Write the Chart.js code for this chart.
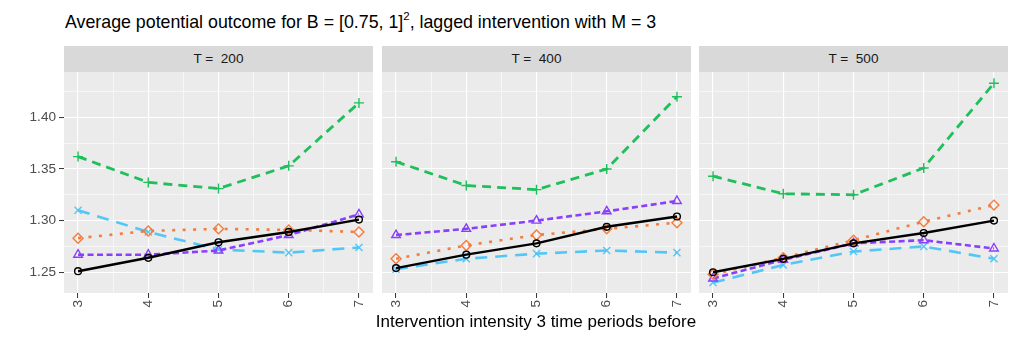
<!DOCTYPE html>
<html>
<head>
<meta charset="utf-8">
<script src="https://cdn.jsdelivr.net/npm/chart.js@4.4.0/dist/chart.umd.min.js"></script>
<style>
body { margin: 0; background: #fff; width: 1017px; height: 339px; overflow: hidden; position: relative; font-family: "Liberation Sans", Arial, sans-serif; }
#titulo { position: absolute; left: 65px; top: 13px; font-size: 17.8px; line-height: 18px; color: #000; white-space: nowrap; }
#titulo sup { font-size: 11.5px; vertical-align: baseline; position: relative; top: -8.5px; }
.faixa { position: absolute; top: 46px; height: 26px; width: 309px; line-height: 26px; background: #d9d9d9; text-align: center; font-size: 13.6px; color: #1a1a1a; white-space: pre; }
canvas { position: absolute; top: 72px; }
#eixo-x { position: absolute; left: 64px; width: 944px; top: 313px; text-align: center; font-size: 17px; line-height: 17px; color: #000; }
</style>
</head>
<body>
<div id="titulo">Average potential outcome for B = [0.75, 1]<sup>2</sup>, lagged intervention with M = 3</div>

<div class="faixa" style="left:64px">T =  200</div>
<div class="faixa" style="left:382px">T =  400</div>
<div class="faixa" style="left:699px">T =  500</div>

<canvas id="grafico-200" width="373" height="267" style="left:0px"></canvas>
<canvas id="grafico-400" width="309" height="267" style="left:382px"></canvas>
<canvas id="grafico-500" width="309" height="267" style="left:699px"></canvas>

<div id="eixo-x">Intervention intensity 3 time periods before</div>

<script>
// Dados
const intensidade = [3, 4, 5, 6, 7];
const ticksX = [3, 4, 5, 6, 7];
const ticksXMenores = [3.5, 4.5, 5.5, 6.5];
const ticksY = [1.25, 1.30, 1.35, 1.40];
const ticksYMenores = [1.275, 1.325, 1.375, 1.425];

// cada lista: [T = 200, T = 400, T = 500]
const preto = [
    [1.251, 1.264, 1.279, 1.289, 1.301],
    [1.254, 1.267, 1.278, 1.294, 1.304],
    [1.250, 1.263, 1.278, 1.288, 1.300]
];
const verde = [
    [1.362, 1.337, 1.331, 1.353, 1.414],
    [1.357, 1.334, 1.330, 1.350, 1.420],
    [1.343, 1.326, 1.325, 1.351, 1.433]
];
const azul = [
    [1.310, 1.289, 1.272, 1.269, 1.274],
    [1.253, 1.263, 1.268, 1.271, 1.269],
    [1.240, 1.257, 1.270, 1.275, 1.263]
];
const laranja = [
    [1.283, 1.290, 1.292, 1.291, 1.289],
    [1.263, 1.276, 1.286, 1.292, 1.298],
    [1.248, 1.264, 1.281, 1.299, 1.315]
];
const roxo = [
    [1.267, 1.267, 1.271, 1.286, 1.306],
    [1.286, 1.292, 1.300, 1.309, 1.319],
    [1.244, 1.262, 1.278, 1.281, 1.273]
];

// Estilos das series
const series = [
    { valores: preto, cor: '#000000', largura: 2.4, traco: [], marcador: 'circle', raio: 3.4 },
    { valores: laranja, cor: '#f47c3c', largura: 2.6, traco: [3, 7.5], marcador: 'rectRot', raio: 5 },
    { valores: roxo, cor: '#8a3ffc', largura: 2.6, traco: [6, 3.5], marcador: 'triangle', raio: 5 },
    { valores: azul, cor: '#54c6f6', largura: 2.6, traco: [12, 8], marcador: 'crossRot', raio: 5 },
    { valores: verde, cor: '#1fbf5c', largura: 2.8, traco: [9, 6], marcador: 'cross', raio: 5 }
];

const perto = (a, b) => Math.abs(a - b) < 1e-6;
const ehMaior = (v, lista) => lista.some(t => perto(t, v));

// Fundo cinza do painel
const fundoPainel = {
    id: 'fundoPainel',
    beforeDraw(chart) {
        const a = chart.chartArea;
        const c = chart.ctx;
        c.save();
        c.fillStyle = '#ebebeb';
        c.fillRect(a.left, a.top, a.right - a.left, a.bottom - a.top);
        c.restore();
    }
};

function semPadding(s) {
    s.paddingLeft = 0;
    s.paddingRight = 0;
    s.paddingTop = 0;
    s.paddingBottom = 0;
}

function gradeEixo(maiores) {
    return {
        color: '#ffffff',
        lineWidth: ctx => (ctx.tick && ehMaior(ctx.tick.value, maiores)) ? 1.1 : 0.55,
        tickColor: ctx => (ctx.tick && ehMaior(ctx.tick.value, maiores)) ? '#333333' : 'rgba(0,0,0,0)',
        tickWidth: 1,
        tickLength: 5,
        drawTicks: true
    };
}

function criarGrafico(id, indice, comEixoY) {
    const ctx = document.getElementById(id).getContext('2d');
    new Chart(ctx, {
        type: 'line',
        data: {
            datasets: series.map(s => ({
                data: intensidade.map((x, i) => ({ x: x, y: s.valores[indice][i] })),
                borderColor: s.cor,
                borderWidth: s.largura,
                borderDash: s.traco,
                borderCapStyle: 'butt',
                pointStyle: s.marcador,
                pointRadius: s.raio,
                pointBorderColor: s.cor,
                pointBackgroundColor: 'rgba(0,0,0,0)',
                pointBorderWidth: 1.4,
                tension: 0,
                fill: false
            }))
        },
        options: {
            responsive: false,
            animation: false,
            devicePixelRatio: 1,
            layout: { padding: 0, autoPadding: false },
            plugins: {
                legend: { display: false },
                tooltip: { enabled: false },
                title: { display: false }
            },
            scales: {
                x: {
                    type: 'linear',
                    min: 2.8,
                    max: 7.2,
                    afterBuildTicks: s => { s.ticks = ticksX.concat(ticksXMenores).sort((a, b) => a - b).map(v => ({ value: v })); },
                    afterFit: s => { s.height = 46; semPadding(s); },
                    border: { display: false },
                    grid: gradeEixo(ticksX),
                    ticks: {
                        autoSkip: false,
                        minRotation: 90,
                        maxRotation: 90,
                        padding: 2,
                        color: '#4d4d4d',
                        font: { family: '"Liberation Sans", Arial, sans-serif', size: 13.6 },
                        callback: v => ehMaior(v, ticksX) ? String(v) : ''
                    }
                },
                y: {
                    type: 'linear',
                    min: 1.2299,
                    max: 1.4439,
                    afterBuildTicks: s => { s.ticks = ticksY.concat(ticksYMenores).sort((a, b) => a - b).map(v => ({ value: v })); },
                    afterFit: s => { s.width = comEixoY ? 64 : 0; semPadding(s); },
                    border: { display: false },
                    grid: Object.assign(gradeEixo(ticksY), { drawTicks: comEixoY }),
                    ticks: {
                        display: comEixoY,
                        autoSkip: false,
                        padding: 3,
                        color: '#4d4d4d',
                        font: { family: '"Liberation Sans", Arial, sans-serif', size: 13.6 },
                        callback: v => ehMaior(v, ticksY) ? v.toFixed(2) : ''
                    }
                }
            }
        },
        plugins: [fundoPainel]
    });
}

criarGrafico('grafico-200', 0, true);
criarGrafico('grafico-400', 1, false);
criarGrafico('grafico-500', 2, false);
</script>
</body>
</html>
